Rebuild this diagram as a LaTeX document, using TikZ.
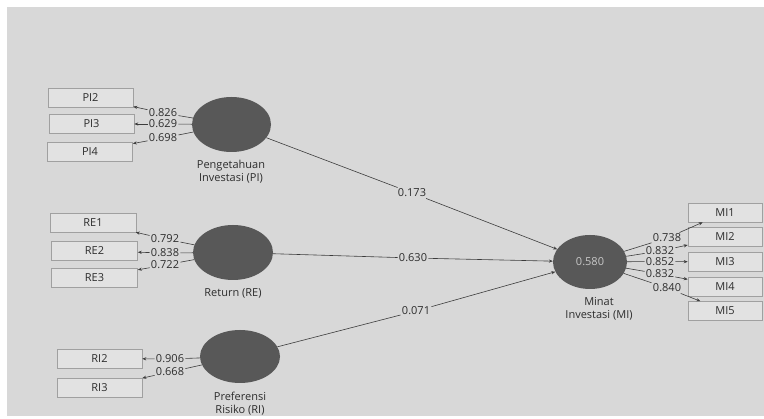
\documentclass[tikz,border=0pt]{standalone}
\usepackage{fontspec}
\setmainfont{Open Sans}
\usetikzlibrary{shapes.geometric,arrows.meta}
\definecolor{bgc}{RGB}{216,216,216}
\definecolor{boxf}{RGB}{226,226,226}
\definecolor{boxd}{RGB}{160,160,160}
\definecolor{circc}{RGB}{88,88,88}
\definecolor{txt}{RGB}{45,45,45}
\definecolor{linec}{RGB}{60,60,60}
\definecolor{intxt}{RGB}{200,200,200}
\begin{document}
\begin{tikzpicture}[x=1pt,y=-1pt,
  lv/.style={ellipse,fill=circc,inner sep=0pt},
  ind/.style={rectangle,draw=boxd,line width=0.6pt,fill=boxf,minimum height=19pt,inner sep=0pt,font=\fontsize{11}{12}\selectfont,text=txt},
  wt/.style={inner sep=1.2pt,font=\fontsize{11}{12}\selectfont,text=txt},
  captxt/.style={align=center,inner sep=0pt,font=\fontsize{11}{13}\selectfont,text=txt},
  ln/.style={draw=linec,line width=0.6pt},
  arr/.style={ln,-{Stealth[length=4pt,width=3.2pt]}}]
\useasboundingbox (0,0) rectangle (764,419);
\fill[white] (0,0) rectangle (764,419);
\fill[bgc] (7,7) rectangle (764,416);
% latent variables
\node[lv,minimum width=79pt,minimum height=55pt] (pi) at (231.5,124.5) {};
\node[lv,minimum width=80pt,minimum height=55pt] (re) at (233,252.5) {};
\node[lv,minimum width=80pt,minimum height=53pt] (ri) at (240,356.5) {};
\node[lv,minimum width=74pt,minimum height=54pt,text=intxt,font=\fontsize{11}{12}\selectfont] (mi) at (590,262) {0.580};
% captions
\node[captxt] (cpi) at (231,171.5) {Pengetahuan\\Investasi (PI)};
\node[captxt] (cre) at (233,293) {Return (RE)};
\node[captxt] (cri) at (240,403.5) {Preferensi\\Risiko (RI)};
\node[captxt] (cmi) at (599,308.5) {Minat\\Investasi (MI)};
% indicators
\node[ind,minimum width=85pt] (pi2) at (90.5,97.5) {PI2};
\node[ind,minimum width=85pt] (pi3) at (91.5,124) {PI3};
\node[ind,minimum width=85pt] (pi4) at (90,151.5) {PI4};
\node[ind,minimum width=86pt] (re1) at (93,222.5) {RE1};
\node[ind,minimum width=86pt] (re2) at (94.5,251) {RE2};
\node[ind,minimum width=86pt] (re3) at (94.5,277.5) {RE3};
\node[ind,minimum width=85pt] (ri2) at (99.5,358.5) {RI2};
\node[ind,minimum width=85pt] (ri3) at (99.5,387.5) {RI3};
\node[ind,minimum width=74pt] (mi1) at (725,212.5) {MI1};
\node[ind,minimum width=74pt] (mi2) at (725,237) {MI2};
\node[ind,minimum width=74pt] (mi3) at (725,262) {MI3};
\node[ind,minimum width=74pt] (mi4) at (725,286.5) {MI4};
\node[ind,minimum width=74pt] (mi5) at (725,311) {MI5};
% weight labels
\node[wt] (w1) at (163,113) {0.826};
\node[wt] (w2) at (163,124) {0.629};
\node[wt] (w3) at (163,138) {0.698};
\node[wt] (w4) at (165,239) {0.792};
\node[wt] (w5) at (165,253) {0.838};
\node[wt] (w6) at (165,265) {0.722};
\node[wt] (w7) at (170,359) {0.906};
\node[wt] (w8) at (170,372) {0.668};
\node[wt] (w9) at (667,238) {0.738};
\node[wt] (w10) at (660,251) {0.832};
\node[wt] (w11) at (660,261.5) {0.852};
\node[wt] (w12) at (660,274) {0.832};
\node[wt] (w13) at (667,288) {0.840};
\node[wt] (p1) at (412,193) {0.173};
\node[wt] (p2) at (413,258) {0.630};
\node[wt] (p3) at (416,311) {0.071};
% outer loadings
\draw[ln] (pi) -- (w1); \draw[arr] (w1) -- (pi2);
\draw[ln] (pi) -- (w2); \draw[arr] (w2) -- (pi3);
\draw[ln] (pi) -- (w3); \draw[arr] (w3) -- (pi4);
\draw[ln] (re) -- (w4); \draw[arr] (w4) -- (re1);
\draw[ln] (re) -- (w5); \draw[arr] (w5) -- (re2);
\draw[ln] (re) -- (w6); \draw[arr] (w6) -- (re3);
\draw[ln] (ri) -- (w7); \draw[arr] (w7) -- (ri2);
\draw[ln] (ri) -- (w8); \draw[arr] (w8) -- (ri3);
\draw[ln] (mi) -- (w9); \draw[arr] (w9) -- (mi1);
\draw[ln] (mi) -- (w10); \draw[arr] (w10) -- (mi2);
\draw[ln] (mi) -- (w11); \draw[arr] (w11) -- (mi3);
\draw[ln] (mi) -- (w12); \draw[arr] (w12) -- (mi4);
\draw[ln] (mi) -- (w13); \draw[arr] (w13) -- (mi5);
% path coefficients
\draw[ln] (pi) -- (p1); \draw[arr] (p1) -- (mi);
\draw[ln] (re) -- (p2); \draw[arr] (p2) -- (mi);
\draw[ln] (ri) -- (p3); \draw[arr] (p3) -- (mi);
\end{tikzpicture}
\end{document}
